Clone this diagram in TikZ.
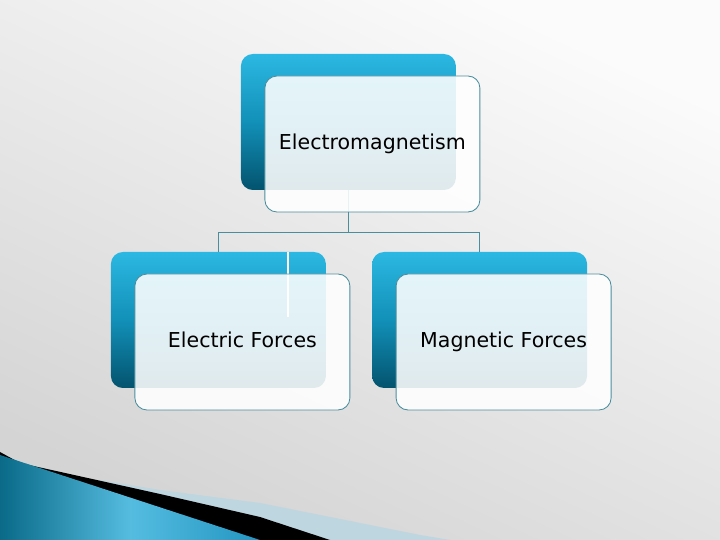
\documentclass[tikz,border=0pt]{standalone}
\usepackage{fontspec}
\setmainfont{DejaVu Sans}
\usetikzlibrary{calc,positioning}

\definecolor{bluetop}{HTML}{2BB8E2}
\definecolor{bluemid}{HTML}{1290B8}
\definecolor{bluebot}{HTML}{03536E}
\definecolor{edgeteal}{HTML}{4A8E9E}
\definecolor{bggrey}{HTML}{D4D4D4}
\definecolor{bglight}{HTML}{FBFBFB}
\definecolor{swooshdark}{HTML}{0A6A88}
\definecolor{swooshlight}{HTML}{55BCE0}
\definecolor{swooshend}{HTML}{2396C2}
\definecolor{bandblue}{HTML}{BDD6DF}

\tikzset{
  backbox/.style={rectangle, rounded corners=0.3cm, minimum width=5.375cm,
    minimum height=3.4cm, top color=bluetop, bottom color=bluebot,
    middle color=bluemid, inner sep=0pt},
  frontbox/.style={rectangle, rounded corners=0.3cm, minimum width=5.375cm,
    minimum height=3.4cm, fill=white, fill opacity=0.88, text opacity=1,
    draw=edgeteal, line width=0.6pt, font=\fontsize{14.6}{17}\selectfont,
    text height=1.0em, text depth=0.25em, xshift=0.6cm, yshift=-0.55cm},
  link/.style={draw=edgeteal, line width=0.6pt}
}

\begin{document}
\begin{tikzpicture}
  \useasboundingbox (0,0) rectangle (18,13.5);
  \shade[top color=bglight, bottom color=bggrey, shading angle=-25] (0,0) rectangle (18,13.5);

  % swoosh bottom left
  \fill[bandblue] (2.5,1.5) -- (4,1.25) -- (6.5,0.925) -- (10.5,0.125) -- (11.25,0) -- (0,0) -- cycle;
  \fill[black] (0,2.2) -- (0.5,1.925) -- (4,1.15) -- (6.5,0.575) -- (8.25,0) -- (0,0) -- cycle;
  \shade[left color=swooshdark, right color=swooshend, middle color=swooshlight]
    (0,2.125) -- (6.5,0) -- (0,0) -- cycle;

  %% back boxes
  \node[backbox] (eb) at (8.71,10.45) {};
  \node[backbox] (lb) at (5.46,5.5) {};
  \node[backbox] (rb) at (11.99,5.5) {};

  \draw[white, line width=0.8pt] ([xshift=1.74cm]lb.north) -- ++(0,-1.62);

  %% links
  \coordinate (j) at (8.71,7.7);
  \draw[link] (eb.south) -- (j);
  \draw[link] (j) -| (lb.north);
  \draw[link] (j) -| (rb.north);

  %% front boxes
  \node[frontbox] (e) at (eb) {Electromagnetism};
  \node[frontbox] (l) at (lb) {Electric Forces};
  \node[frontbox] (r) at (rb) {Magnetic Forces};
\end{tikzpicture}
\end{document}
